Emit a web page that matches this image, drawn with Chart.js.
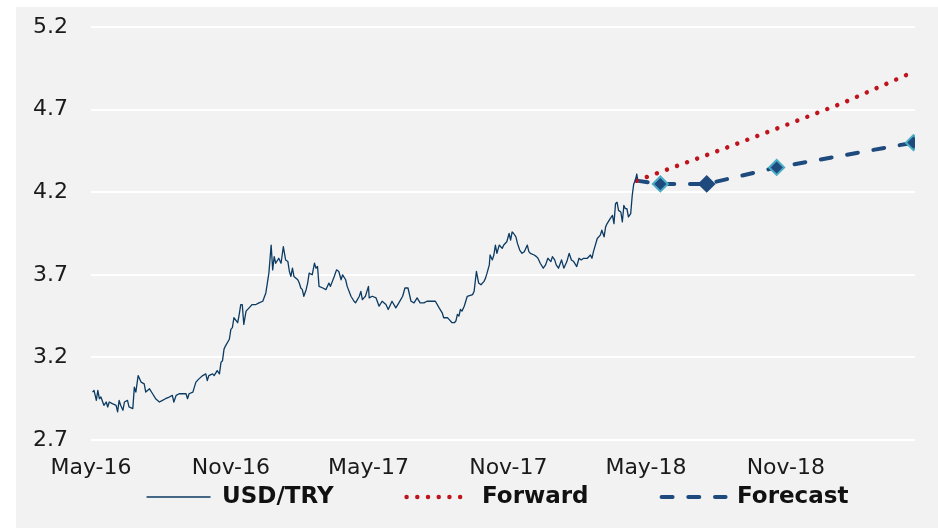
<!DOCTYPE html>
<html>
<head>
<meta charset="utf-8">
<title>USD/TRY</title>
<script src="https://cdn.jsdelivr.net/npm/chart.js@4.4.1/dist/chart.umd.min.js"></script>
<style>
  html, body { margin: 0; background: #fff; }
  #wrap { position: absolute; left: 16px; top: 7px; width: 922px; height: 521px; background: #f2f2f2; }
</style>
</head>
<body>
<div id="wrap"><canvas id="fx"></canvas></div>
<script>
// x values are days counted from 1 May 2016
const tickDays = [0, 184, 365, 549, 730, 914]
const tickLabels = ['May-16', 'Nov-16', 'May-17', 'Nov-17', 'May-18', 'Nov-18']

// USD/TRY spot
const spotDays = [
  2, 4, 7, 9, 11, 13, 17, 20, 22, 24, 28, 33, 35, 37, 39, 42, 44, 48, 50, 55,
  57, 59, 62, 66, 70, 72, 77, 81, 85, 90, 94, 98, 103, 107, 109, 112, 116, 120, 125, 127,
  129, 134, 138, 142, 147, 151, 153, 155, 160, 162, 166, 169, 171, 173, 175, 177, 182, 184, 186, 188,
  193, 195, 197, 199, 201, 204, 208, 212, 217, 221, 226, 230, 232, 234, 237, 239, 241, 243, 247, 250,
  253, 256, 259, 261, 263, 265, 267, 272, 274, 276, 278, 280, 283, 285, 287, 291, 294, 296, 298, 300,
  305, 309, 313, 315, 320, 323, 326, 329, 331, 335, 337, 342, 346, 348, 353, 355, 357, 361, 365, 366,
  370, 375, 379, 383, 388, 391, 396, 401, 405, 410, 413, 417, 421, 425, 429, 433, 438, 442, 449, 453,
  458, 462, 464, 469, 471, 475, 478, 480, 482, 484, 486, 488, 491, 493, 495, 502, 504, 507, 510, 513,
  517, 519, 521, 524, 525, 528, 530, 532, 534, 537, 539, 541, 543, 547, 550, 552, 554, 556, 559, 561,
  564, 567, 570, 574, 576, 578, 583, 586, 588, 591, 595, 598, 601, 605, 607, 610, 612, 615, 619, 622,
  626, 629, 632, 635, 639, 642, 645, 648, 653, 657, 659, 661, 666, 670, 672, 675, 677, 679, 683, 686,
  688, 690, 692, 694, 697, 699, 701, 703, 705, 707, 710, 712, 714, 716, 718, 719
]
const spotRates = [
  2.99, 3.00, 2.94, 3.00, 2.95, 2.96, 2.91, 2.93, 2.90, 2.93, 2.92, 2.91, 2.87, 2.94, 2.91, 2.88, 2.93, 2.94, 2.90, 2.89,
  3.02, 2.99, 3.09, 3.05, 3.04, 2.99, 3.01, 2.98, 2.95, 2.93, 2.94, 2.95, 2.96, 2.97, 2.93, 2.97, 2.98, 2.98, 2.98, 2.95,
  2.98, 2.99, 3.05, 3.07, 3.09, 3.10, 3.06, 3.09, 3.10, 3.09, 3.12, 3.10, 3.17, 3.18, 3.25, 3.27, 3.31, 3.37, 3.38, 3.44,
  3.41, 3.46, 3.52, 3.52, 3.40, 3.48, 3.50, 3.52, 3.52, 3.53, 3.54, 3.59, 3.65, 3.71, 3.88, 3.73, 3.81, 3.77, 3.80, 3.77,
  3.87, 3.79, 3.78, 3.72, 3.69, 3.74, 3.69, 3.67, 3.65, 3.62, 3.61, 3.57, 3.61, 3.65, 3.71, 3.70, 3.77, 3.74, 3.75, 3.63,
  3.62, 3.61, 3.65, 3.63, 3.69, 3.73, 3.72, 3.67, 3.70, 3.67, 3.63, 3.57, 3.54, 3.53, 3.57, 3.60, 3.55, 3.57, 3.63, 3.56,
  3.57, 3.56, 3.51, 3.54, 3.52, 3.49, 3.54, 3.50, 3.53, 3.57, 3.62, 3.62, 3.54, 3.53, 3.56, 3.53, 3.53, 3.54, 3.54, 3.54,
  3.50, 3.47, 3.44, 3.44, 3.43, 3.41, 3.41, 3.42, 3.46, 3.45, 3.49, 3.48, 3.51, 3.54, 3.57, 3.58, 3.60, 3.72, 3.65, 3.64,
  3.66, 3.68, 3.71, 3.76, 3.82, 3.79, 3.82, 3.88, 3.83, 3.88, 3.87, 3.86, 3.88, 3.90, 3.95, 3.91, 3.96, 3.95, 3.93, 3.89,
  3.85, 3.83, 3.84, 3.88, 3.84, 3.83, 3.82, 3.81, 3.80, 3.77, 3.74, 3.76, 3.80, 3.78, 3.81, 3.79, 3.76, 3.74, 3.79, 3.74,
  3.78, 3.83, 3.79, 3.78, 3.75, 3.80, 3.79, 3.80, 3.80, 3.82, 3.80, 3.84, 3.92, 3.94, 3.97, 3.93, 3.99, 4.01, 4.04, 4.06,
  4.01, 4.13, 4.14, 4.09, 4.08, 4.02, 4.12, 4.10, 4.10, 4.05, 4.07, 4.18, 4.25, 4.27, 4.31, 4.28
]

const forwardDays = [718, 819, 905, 989, 1073]
const forwardRates = [4.27, 4.44, 4.59, 4.74, 4.91]

const forecastDays = [718, 749, 810, 902, 1082]
const forecastRates = [4.27, 4.25, 4.25, 4.35, 4.50]

const toPoints = (xs, ys) => xs.map((x, i) => ({ x: x, y: ys[i] }))

const NAVY = '#1f4a7e'
const RED = '#c0141c'

Chart.defaults.font.family = '"DejaVu Sans", sans-serif'
Chart.defaults.color = '#1a1a1a'

// the legend's label padding also pushes items down, so move the row
// to where the reference has it once the layout is done
const legendPlace = {
  id: 'legendPlace',
  afterLayout(chart) {
    const lg = chart.legend
    const pad = lg.options.labels.padding
    lg.top = 490 - 11.5 - pad
    lg.bottom = lg.top + pad + 40
    const start = (lg.left + pad + lg.right - lg.lineWidths[0]) / 2
    const want = 481.5 - (lg.lineWidths[0] - pad) / 2
    lg.left += want - start
    lg.right += want - start
  }
}

new Chart(document.getElementById('fx'), {
  type: 'line',
  data: {
    datasets: [
      {
        label: 'USD/TRY',
        data: toPoints(spotDays, spotRates),
        borderColor: '#0b3a62',
        borderWidth: 1.3,
        borderJoinStyle: 'round',
        pointRadius: 0,
        tension: 0
      },
      {
        label: 'Forward',
        data: toPoints(forwardDays, forwardRates),
        borderColor: RED,
        backgroundColor: RED,
        borderWidth: 4.5,
        borderDash: [0.01, 10.7],
        borderCapStyle: 'round',
        pointRadius: 0,
        tension: 0
      },
      {
        label: 'Forecast',
        data: toPoints(forecastDays, forecastRates),
        borderColor: NAVY,
        backgroundColor: NAVY,
        borderWidth: 4,
        borderDash: [11, 15.7],
        borderCapStyle: 'round',
        pointStyle: 'rectRot',
        pointRadius: [0, 7.5, 7.5, 7.5, 7.5],
        pointBackgroundColor: NAVY,
        pointBorderColor: [NAVY, '#4bacc6', NAVY, '#4bacc6', '#4bacc6'],
        pointBorderWidth: 2,
        tension: 0
      }
    ]
  },
  options: {
    responsive: true,
    maintainAspectRatio: false,
    animation: false,
    layout: {
      padding: { top: 20, right: 23, bottom: 0, left: 0 }
    },
    scales: {
      x: {
        type: 'linear',
        min: 0,
        max: 1084,
        afterBuildTicks: (scale) => {
          scale.ticks = tickDays.map(d => ({ value: d }))
        },
        afterFit: (scale) => { scale.height = 46 },
        grid: { display: false, drawTicks: false },
        border: { display: false },
        ticks: {
          padding: 15,
          maxRotation: 0,
          autoSkip: false,
          font: { size: 22 },
          callback: (value) => tickLabels[tickDays.indexOf(value)]
        }
      },
      y: {
        min: 2.7,
        max: 5.2,
        afterFit: (scale) => { scale.width = 75 },
        grid: {
          color: '#ffffff',
          lineWidth: 2,
          drawTicks: true,
          tickLength: 23,
          tickColor: 'rgba(0,0,0,0)'
        },
        border: { display: false },
        ticks: {
          stepSize: 0.5,
          padding: 0,
          font: { size: 22 },
          callback: (value) => value.toFixed(1)
        }
      }
    },
    plugins: {
      legend: {
        display: true,
        position: 'bottom',
        maxHeight: 42,
        labels: {
          usePointStyle: true,
          pointStyle: 'line',
          pointStyleWidth: 64,
          padding: 73,
          color: '#111111',
          font: { size: 23, weight: 'bold' },
          // take the line look from the dataset, not from its first point
          generateLabels: (chart) => chart.data.datasets.map((ds, i) => ({
            text: ds.label,
            datasetIndex: i,
            hidden: !chart.isDatasetVisible(i),
            fontColor: '#111111',
            fillStyle: ds.borderColor,
            strokeStyle: ds.borderColor,
            lineWidth: ds.borderWidth,
            lineDash: ds.borderDash || [],
            lineCap: ds.borderCapStyle || 'butt',
            pointStyle: 'line'
          }))
        }
      },
      tooltip: { enabled: false }
    }
  },
  plugins: [legendPlace]
})
</script>
</body>
</html>
